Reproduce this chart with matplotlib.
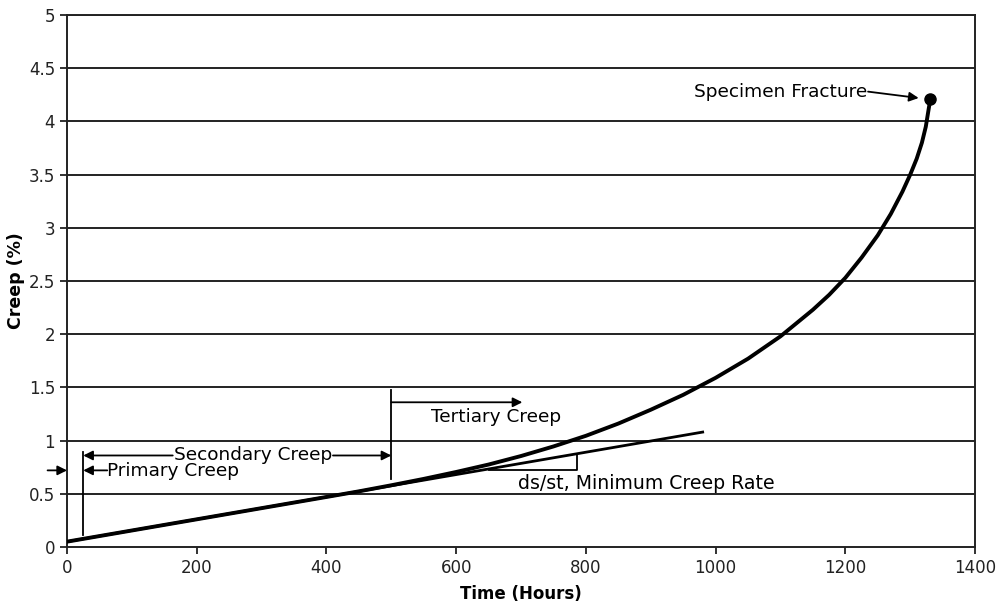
import matplotlib
matplotlib.use("Agg")
import matplotlib.pyplot as plt

# creep curve
hours = [0, 100, 200, 300, 400, 450, 500, 550, 600, 650, 700, 750, 800, 850, 900, 950,
         1000, 1050, 1100, 1150, 1175, 1200, 1225, 1250, 1270, 1288, 1300, 1310, 1318, 1324, 1328, 1331]
creep = [0.05, 0.155, 0.26, 0.365, 0.47, 0.523, 0.58, 0.64, 0.705, 0.775, 0.855, 0.945, 1.045, 1.16, 1.29, 1.43,
         1.59, 1.77, 1.98, 2.23, 2.37, 2.53, 2.72, 2.93, 3.13, 3.34, 3.5, 3.65, 3.8, 3.95, 4.1, 4.21]

# minimum creep rate line
rate_t = [0, 980]
rate_c = [0.05, 1.08]

xticks = [0, 200, 400, 600, 800, 1000, 1200, 1400]
yticks = [0, 0.5, 1, 1.5, 2, 2.5, 3, 3.5, 4, 4.5, 5]
yticklabels = ['0', '0.5', '1', '1.5', '2', '2.5', '3', '3.5', '4', '4.5', '5']

plt.rcParams['font.family'] = 'DejaVu Sans'
fig = plt.figure(figsize=(9.96, 6.06), dpi=100)
ax = fig.add_axes([0.0673, 0.0974, 0.9117, 0.8778])

for y in yticks[1:]:
    ax.axhline(y, color='#222222', lw=1.4, zorder=1)

ax.plot(hours, creep, color='black', lw=2.8, solid_joinstyle='round', solid_capstyle='round', zorder=3)
ax.plot(rate_t, rate_c, color='black', lw=2.0, zorder=3)
ax.plot(hours[-1], creep[-1], 'o', color='black', ms=8, zorder=4)

lk = dict(color='black', lw=1.3)
arr = dict(arrowstyle='-|>', color='black', lw=1.3, mutation_scale=14, shrinkA=0, shrinkB=0)
fs = 13.3

# primary / secondary
ax.plot([25, 25], [0.11, 0.89], **lk)
ax.plot([500, 500], [0.64, 1.48], **lk)
ax.annotate('', xy=(25, 0.86), xytext=(163, 0.86), arrowprops=arr)
ax.annotate('', xy=(500, 0.86), xytext=(410, 0.86), arrowprops=arr)
ax.text(287, 0.86, 'Secondary Creep', ha='center', va='center', fontsize=fs)
ax.annotate('', xy=(25, 0.72), xytext=(62, 0.72), arrowprops=arr)
ax.annotate('', xy=(0, 0.72), xytext=(-30, 0.72), arrowprops=arr, annotation_clip=False)
ax.text(62, 0.71, 'Primary Creep', ha='left', va='center', fontsize=fs)

# tertiary
ax.annotate('', xy=(702, 1.36), xytext=(500, 1.36), arrowprops=arr)
ax.text(561, 1.22, 'Tertiary Creep', ha='left', va='center', fontsize=fs)

# minimum creep rate triangle
ax.plot([650, 786, 786], [0.72, 0.72, 0.86], **lk)
ax.text(695, 0.6, 'ds/st, Minimum Creep Rate', ha='left', va='center', fontsize=13.6)

# fracture
ax.annotate('', xy=(1313, 4.22), xytext=(1235, 4.28), arrowprops=arr)
ax.text(1233, 4.28, 'Specimen Fracture', ha='right', va='center', fontsize=fs)

ax.set_xlim(0, 1400)
ax.set_ylim(0, 5)
ax.set_xticks(xticks)
ax.set_yticks(yticks)
ax.set_yticklabels(yticklabels)
ax.tick_params(direction='out', length=5, width=1.3, labelsize=12, colors='#222222')
for s in ax.spines.values():
    s.set_linewidth(1.4)
    s.set_color('#222222')
ax.set_xlabel('Time (Hours)', fontsize=12, fontweight='bold', labelpad=6)
ax.set_ylabel('Creep (%)', fontsize=12.5, fontweight='bold')
ax.yaxis.set_label_coords(-0.046, 0.5)

fig.savefig('out.png', dpi=100)
